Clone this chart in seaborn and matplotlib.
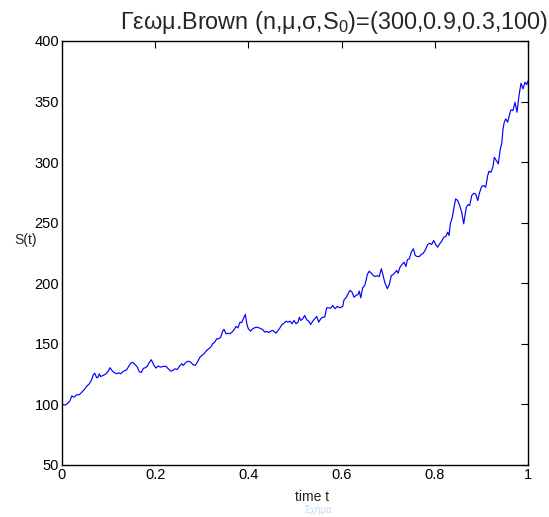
import matplotlib
matplotlib.use("Agg")
import matplotlib.pyplot as plt
import seaborn as sns
import pandas as pd

t_vals = [0.0000, 0.0064, 0.0114, 0.0172, 0.0208, 0.0258, 0.0315, 0.0371, 0.0423, 0.0472,
          0.0530, 0.0586, 0.0637, 0.0672, 0.0702, 0.0745, 0.0773, 0.0800, 0.0830, 0.0886,
          0.0944, 0.0994, 0.1030, 0.1073, 0.1116, 0.1174, 0.1217, 0.1260, 0.1303, 0.1352,
          0.1388, 0.1431, 0.1474, 0.1517, 0.1567, 0.1616, 0.1659, 0.1702, 0.1745, 0.1788,
          0.1830, 0.1873, 0.1916, 0.1974, 0.2017, 0.2060, 0.2118, 0.2174, 0.2232, 0.2281,
          0.2333, 0.2376, 0.2425, 0.2474, 0.2517, 0.2569, 0.2603, 0.2661, 0.2710, 0.2762,
          0.2805, 0.2860, 0.2903, 0.2961, 0.3004, 0.3047, 0.3105, 0.3148, 0.3191, 0.3234,
          0.3277, 0.3320, 0.3363, 0.3405, 0.3448, 0.3476, 0.3519, 0.3562, 0.3605, 0.3648,
          0.3691, 0.3734, 0.3777, 0.3820, 0.3856, 0.3891, 0.3933, 0.3970, 0.3998, 0.4049,
          0.4092, 0.4135, 0.4178, 0.4221, 0.4264, 0.4307, 0.4350, 0.4393, 0.4436, 0.4479,
          0.4521, 0.4564, 0.4592, 0.4635, 0.4678, 0.4721, 0.4764, 0.4807, 0.4850, 0.4893,
          0.4936, 0.4979, 0.5021, 0.5064, 0.5092, 0.5122, 0.5165, 0.5208, 0.5251, 0.5294,
          0.5337, 0.5380, 0.5423, 0.5466, 0.5509, 0.5552, 0.5594, 0.5637, 0.5680, 0.5723,
          0.5766, 0.5809, 0.5858, 0.5908, 0.5966, 0.6024, 0.6052, 0.6094, 0.6137, 0.6180,
          0.6223, 0.6266, 0.6309, 0.6352, 0.6380, 0.6410, 0.6453, 0.6496, 0.6524, 0.6552,
          0.6594, 0.6637, 0.6680, 0.6723, 0.6766, 0.6809, 0.6852, 0.6882, 0.6925, 0.6981,
          0.7024, 0.7067, 0.7110, 0.7152, 0.7182, 0.7210, 0.7253, 0.7296, 0.7339, 0.7382,
          0.7410, 0.7453, 0.7496, 0.7539, 0.7582, 0.7625, 0.7667, 0.7710, 0.7753, 0.7796,
          0.7848, 0.7891, 0.7933, 0.7976, 0.8019, 0.8062, 0.8105, 0.8148, 0.8191, 0.8234,
          0.8277, 0.8305, 0.8333, 0.8376, 0.8406, 0.8448, 0.8491, 0.8534, 0.8577, 0.8620,
          0.8648, 0.8676, 0.8719, 0.8749, 0.8792, 0.8835, 0.8878, 0.8921, 0.8963, 0.9006,
          0.9049, 0.9092, 0.9135, 0.9163, 0.9206, 0.9249, 0.9277, 0.9320, 0.9363, 0.9406,
          0.9436, 0.9464, 0.9491, 0.9521, 0.9564, 0.9607, 0.9635, 0.9678, 0.9721, 0.9764,
          0.9807, 0.9850, 0.9893, 0.9936, 0.9972, 1.0000]

s_vals = [100.0, 99.5, 100.6, 103.0, 107.0, 106.0, 108.0, 108.0, 110.0, 112.0,
          115.0, 117.0, 120.4, 124.5, 125.8, 122.0, 122.5, 125.3, 123.0, 124.0,
          125.3, 127.5, 130.3, 128.0, 126.4, 125.3, 126.1, 125.3, 127.0, 128.0,
          128.6, 131.4, 134.0, 134.7, 133.0, 130.8, 127.0, 126.4, 129.7, 130.3,
          131.4, 134.7, 136.9, 132.2, 130.0, 131.6, 130.8, 131.4, 131.4, 129.4,
          127.5, 128.0, 129.4, 128.9, 131.4, 133.6, 132.2, 134.9, 135.7, 134.9,
          133.0, 132.2, 134.9, 139.0, 140.4, 141.8, 144.6, 146.0, 147.3, 150.1,
          151.4, 154.2, 154.2, 155.5, 160.5, 162.1, 158.3, 158.8, 158.3, 159.7,
          161.6, 164.4, 163.3, 167.9, 167.5, 170.7, 174.3, 166.0, 162.5, 160.5,
          162.5, 163.3, 163.8, 163.3, 162.5, 161.9, 159.7, 160.2, 159.4, 160.5,
          161.1, 159.7, 158.8, 161.1, 163.3, 166.0, 167.1, 168.7, 167.9, 168.7,
          166.6, 169.3, 166.6, 167.9, 172.0, 169.3, 170.7, 173.4, 169.9, 168.7,
          166.0, 168.7, 170.7, 172.6, 167.9, 170.7, 172.0, 172.0, 179.8, 179.8,
          179.4, 181.7, 179.0, 180.9, 179.8, 180.9, 186.4, 188.0, 191.3, 194.1,
          192.7, 188.5, 190.0, 190.8, 193.5, 188.0, 196.3, 198.2, 202.3, 207.3,
          210.0, 208.3, 206.4, 205.6, 206.2, 205.6, 212.0, 207.8, 200.9, 195.5,
          199.0, 206.4, 207.3, 209.2, 210.6, 208.3, 213.3, 215.5, 217.4, 213.9,
          219.4, 220.2, 225.7, 228.5, 222.9, 222.1, 222.1, 223.8, 224.8, 227.5,
          232.0, 233.1, 232.0, 235.3, 232.0, 229.8, 232.6, 234.7, 238.0, 238.6,
          242.2, 239.4, 249.1, 254.5, 261.5, 269.7, 268.3, 264.2, 258.7, 249.1,
          256.0, 262.8, 265.0, 264.2, 272.4, 274.3, 273.8, 268.3, 275.2, 279.9,
          280.7, 279.3, 288.9, 292.5, 291.7, 296.4, 304.0, 301.3, 298.6, 311.0,
          315.1, 327.5, 333.0, 335.7, 333.0, 339.9, 343.2, 342.6, 349.4, 341.2,
          355.0, 365.1, 360.5, 366.0, 364.0, 367.0]

x_ticks = [0, 0.2, 0.4, 0.6, 0.8, 1]
x_tick_labels = ["0", "0.2", "0.4", "0.6", "0.8", "1"]
y_ticks = [50, 100, 150, 200, 250, 300, 350, 400]
y_tick_labels = ["50", "100", "150", "200", "250", "300", "350", "400"]

sns.set_style("white")
plt.rcParams['font.family'] = ['Liberation Sans', 'DejaVu Sans']
plt.rcParams['mathtext.fontset'] = 'custom'
plt.rcParams['mathtext.rm'] = 'Liberation Sans'
plt.rcParams['mathtext.it'] = 'Liberation Sans'

W, H = 549, 517
fig = plt.figure(figsize=(W / 100, H / 100), dpi=100)
left, right, top, bottom = 62, 528, 41, 465
ax = fig.add_axes([left / W, 1 - bottom / H, (right - left) / W, (bottom - top) / H])

df = pd.DataFrame({"t": t_vals, "S": s_vals})
sns.lineplot(data=df, x="t", y="S", ax=ax, color="#0000ff", linewidth=0.85,
             estimator=None, sort=False)

ax.set_xlim(0, 1)
ax.set_ylim(50, 400)
ax.set_xticks(x_ticks)
ax.set_xticklabels(x_tick_labels)
ax.set_yticks(y_ticks)
ax.set_yticklabels(y_tick_labels)
ax.tick_params(direction="in", length=5, width=0.8, top=True, right=True,
               labelsize=10.5, colors="black", pad=2)
for sp in ax.spines.values():
    sp.set_visible(True)
    sp.set_color("black")
    sp.set_linewidth(1.0)
ax.set_xlabel("")
ax.set_ylabel("")

fig.text(312 / W, 1 - 497 / H, "time t", ha="center", va="center", fontsize=10)
fig.text(26 / W, 1 - 240 / H, "S(t)", ha="center", va="center", fontsize=10)
fig.text(334 / W, 1 - 22 / H, r"Γεωμ.Brown (n,μ,σ,S$_0$)=(300,0.9,0.3,100)",
         ha="center", va="center", fontsize=16.8)
fig.text(318 / W, 1 - 510 / H, "Σχήμα", ha="center", va="center", fontsize=7,
         color="#9cc3ea", alpha=0.6)

fig.savefig("out.png", dpi=100)
